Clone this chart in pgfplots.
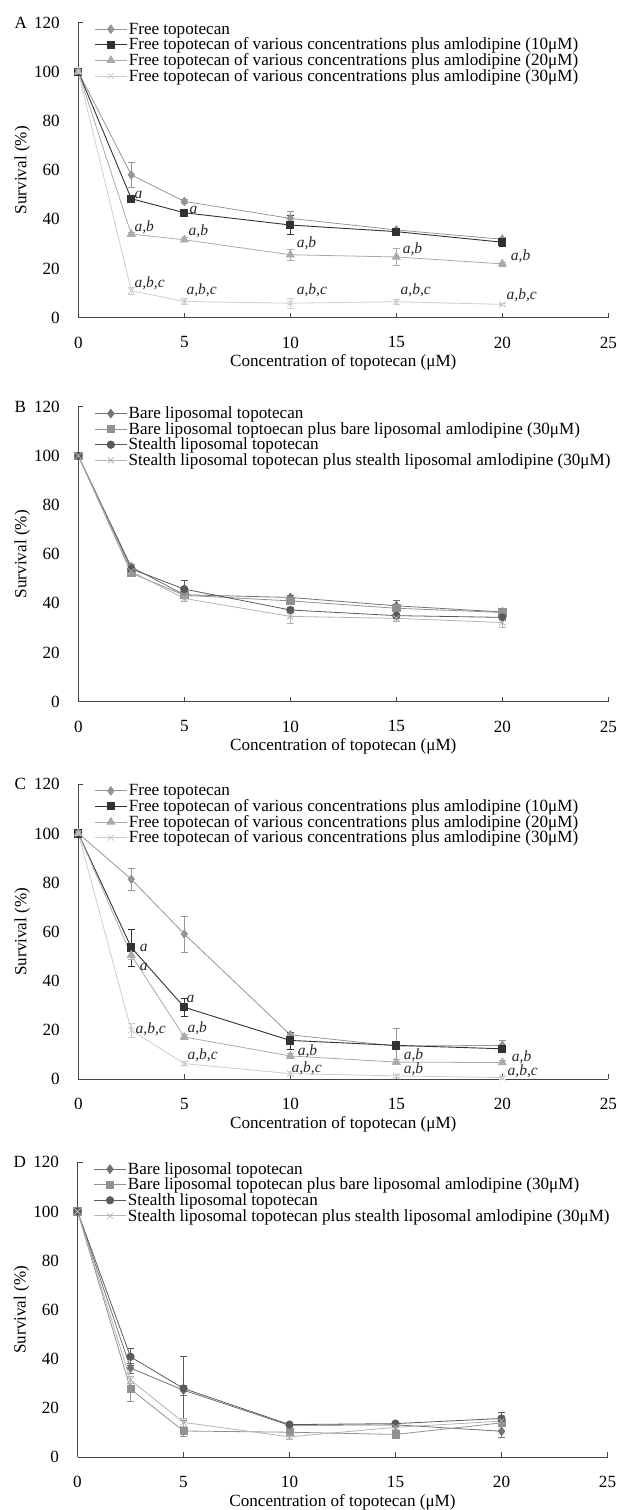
\documentclass[border=0pt]{standalone}
\usepackage{fontspec}
\setmainfont{Liberation Serif}
\usepackage{pgfplots}
\pgfplotsset{compat=1.18}
\definecolor{axc}{RGB}{70,70,70}
\definecolor{freeC}{RGB}{150,150,150}
\definecolor{amAC}{RGB}{50,50,50}
\definecolor{amBC}{RGB}{170,170,170}
\definecolor{amCC}{RGB}{205,205,205}
\definecolor{bareC}{RGB}{115,115,115}
\definecolor{bareAmC}{RGB}{145,145,145}
\definecolor{stC}{RGB}{90,90,90}
\definecolor{stAmC}{RGB}{180,180,180}
\newcommand{\pfont}{\fontsize{17.1bp}{18.5bp}\selectfont}
\tikzset{ann/.style={font=\fontsize{15.5bp}{17bp}\selectfont\itshape, text=black!85, inner sep=1bp}}
\pgfplotsset{
  panel/.style={
    scale only axis, width=530bp, height=295bp,
    anchor=south west,
    xmin=0, xmax=25, ymin=0, ymax=120,
    axis lines=left,
    axis line style={-, draw=axc, line width=0.9bp},
    xtick={0,5,...,25}, ytick={0,20,...,120},
    tick align=inside, major tick length=5bp,
    xtick style={draw=axc, line width=0.8bp},
    ytick style={draw=none},
    font=\pfont,
    /pgf/number format/assume math mode=true,
    xticklabel style={yshift=-15.5bp},
    yticklabel style={xshift=-15bp},
    xlabel={Concentration of topotecan (μM)},
    ylabel={Survival (\%)},
    xlabel style={at={(axis description cs:0.5,0)}, anchor=center, yshift=-45bp},
    ylabel style={at={(axis description cs:-0.1057,0.5)}, anchor=center},
    clip=false,
    legend cell align=left,
    legend style={at={(axis description cs:0.03,1.005)}, anchor=north west,
      draw=none, fill=none, row sep=-0.8bp, inner sep=0bp,
      nodes={inner sep=1.5bp},
      font=\pfont},
    legend image code/.code={\draw[mark repeat=2,mark phase=2,#1] plot coordinates {(0bp,0bp) (16bp,0bp) (32bp,0bp)};},
    error bars/y dir=both, error bars/y explicit,
    error bars/error bar style={line width=0.6bp},
    error bars/error mark options={rotate=90, mark size=3.3bp, line width=0.6bp},
  },
  sFree/.style={color=freeC, line width=0.8bp, mark=diamond*, mark size=4.3bp, mark options={solid}},
  sA/.style={color=amAC, line width=0.9bp, mark=square*, mark size=3.6bp},
  sB/.style={color=amBC, line width=0.8bp, mark=triangle*, mark size=4.5bp},
  sC/.style={color=amCC, line width=0.8bp, mark=x, mark size=4.2bp, mark options={line width=0.8bp}},
  sBare/.style={color=bareC, line width=0.8bp, mark=diamond*, mark size=4.3bp},
  sBareAm/.style={color=bareAmC, line width=0.8bp, mark=square*, mark size=3.6bp},
  sSt/.style={color=stC, line width=0.8bp, mark=*, mark size=3.7bp},
  sStAm/.style={color=stAmC, line width=0.8bp, mark=x, mark size=4.2bp, mark options={line width=0.8bp}},
}
\begin{document}
\begin{tikzpicture}
\useasboundingbox (0bp,0bp) rectangle (618bp,1510bp);
% ---------------- Panel A ----------------
\begin{axis}[panel, at={(78.3bp,1192.3bp)}]
\addplot[sFree] table[row sep=\\, x=x, y=y, y error=e]{
x y e\\ 0 100 0\\ 2.5 58.1 5.2\\ 5 47.3 0.8\\ 10 40.4 2.7\\ 15 35.7 0.8\\ 20 31.9 0.8\\};
\addlegendentry{Free topotecan}
\addplot[sA] table[row sep=\\, x=x, y=y, y error=e]{
x y e\\ 0 100 0\\ 2.5 48.4 1.0\\ 5 42.7 1.5\\ 10 37.7 3.8\\ 15 35.0 1.2\\ 20 30.7 1.5\\};
\addlegendentry{Free topotecan of various concentrations plus amlodipine (10μM)}
\addplot[sB] table[row sep=\\, x=x, y=y, y error=e]{
x y e\\ 0 100 0\\ 2.5 34.0 0.8\\ 5 31.7 0.8\\ 10 25.6 2.2\\ 15 24.7 3.5\\ 20 21.9 0.8\\};
\addlegendentry{Free topotecan of various concentrations plus amlodipine (20μM)}
\addplot[sC] table[row sep=\\, x=x, y=y, y error=e]{
x y e\\ 0 100 0\\ 2.5 11.0 1.5\\ 5 6.6 1.3\\ 10 5.9 2.1\\ 15 6.5 1.0\\ 20 5.4 0.5\\};
\addlegendentry{Free topotecan of various concentrations plus amlodipine (30μM)}
\node[ann, anchor=south west] at (axis cs:2.6,47.8) {a};
\node[ann, anchor=west] at (axis cs:5.2,43.8) {a};
\node[ann, anchor=south west] at (axis cs:2.6,33.8) {a,b};
\node[ann, anchor=south west] at (axis cs:5.15,31.8) {a,b};
\node[ann, anchor=south west] at (axis cs:10.25,27) {a,b};
\node[ann, anchor=south west] at (axis cs:15.25,24.8) {a,b};
\node[ann, anchor=south west] at (axis cs:20.35,22) {a,b};
\node[ann, anchor=south west] at (axis cs:2.6,11) {a,b,c};
\node[ann, anchor=south west] at (axis cs:5.05,8) {a,b,c};
\node[ann, anchor=south west] at (axis cs:10.25,8) {a,b,c};
\node[ann, anchor=south west] at (axis cs:15.15,8) {a,b,c};
\node[ann, anchor=south west] at (axis cs:20.15,6) {a,b,c};
\node[anchor=west, font=\pfont] at (axis description cs:-0.127,1.0) {A};
\draw[axc, line width=0.8bp] (axis cs:0,120) -- ++(5bp,0bp);
\end{axis}
% ---------------- Panel B ----------------
\begin{axis}[panel, at={(78.3bp,808.3bp)}]
\addplot[sBare] table[row sep=\\, x=x, y=y, y error=e]{
x y e\\ 0 100 0\\ 2.5 54.8 1.0\\ 5 43.5 1.0\\ 10 42.4 1.0\\ 15 39.0 2.2\\ 20 36.5 1.0\\};
\addlegendentry{Bare liposomal topotecan}
\addplot[sBareAm] table[row sep=\\, x=x, y=y, y error=e]{
x y e\\ 0 100 0\\ 2.5 52.3 1.0\\ 5 43.3 1.0\\ 10 41.0 1.0\\ 15 38.0 1.0\\ 20 36.3 1.0\\};
\addlegendentry{Bare liposomal toptoecan plus bare liposomal amlodipine (30μM)}
\addplot[sSt] table[row sep=\\, x=x, y=y, y error=e]{
x y e\\ 0 100 0\\ 2.5 54.0 1.0\\ 5 45.8 3.6\\ 10 37.3 1.0\\ 15 35.0 1.0\\ 20 34.3 1.0\\};
\addlegendentry{Stealth liposomal topotecan}
\addplot[sStAm] table[row sep=\\, x=x, y=y, y error=e]{
x y e\\ 0 100 0\\ 2.5 53.0 1.0\\ 5 42.0 1.0\\ 10 34.7 3.0\\ 15 33.9 1.0\\ 20 32.2 2.0\\};
\addlegendentry{Stealth liposomal topotecan plus stealth liposomal amlodipine (30μM)}
\node[anchor=west, font=\pfont] at (axis description cs:-0.127,1.0) {B};
\draw[axc, line width=0.8bp] (axis cs:0,120) -- ++(5bp,0bp);
\end{axis}
% ---------------- Panel C ----------------
\begin{axis}[panel, at={(78.3bp,430.7bp)}]
\addplot[sFree] table[row sep=\\, x=x, y=y, y error=e]{
x y e\\ 0 100 0\\ 2.5 81.4 4.4\\ 5 59.1 7.4\\ 10 18.1 1.0\\ 15 13.5 7.3\\ 20 13.8 2.0\\};
\addlegendentry{Free topotecan}
\addplot[sA] table[row sep=\\, x=x, y=y, y error=e]{
x y e\\ 0 100 0\\ 2.5 53.6 7.6\\ 5 29.3 3.5\\ 10 15.8 3.5\\ 15 13.8 1.0\\ 20 12.4 1.3\\};
\addlegendentry{Free topotecan of various concentrations plus amlodipine (10μM)}
\addplot[sB] table[row sep=\\, x=x, y=y, y error=e]{
x y e\\ 0 100 0\\ 2.5 50.5 1.5\\ 5 17.2 1.0\\ 10 9.5 1.0\\ 15 7.0 1.0\\ 20 6.8 0.8\\};
\addlegendentry{Free topotecan of various concentrations plus amlodipine (20μM)}
\addplot[sC] table[row sep=\\, x=x, y=y, y error=e]{
x y e\\ 0 100 0\\ 2.5 19.9 2.8\\ 5 6.4 0.8\\ 10 2.3 0.8\\ 15 1.4 0.5\\ 20 0.7 0.5\\};
\addlegendentry{Free topotecan of various concentrations plus amlodipine (30μM)}
\node[ann, anchor=west] at (axis cs:2.85,53.4) {a};
\node[ann, anchor=west] at (axis cs:2.85,45.8) {a};
\node[ann, anchor=south west] at (axis cs:5.05,30.5) {a};
\node[ann, anchor=south west] at (axis cs:5.1,17.5) {a,b};
\node[ann, anchor=west] at (axis cs:2.65,20.5) {a,b,c};
\node[ann, anchor=south west] at (axis cs:5.1,6.5) {a,b,c};
\node[ann, anchor=west] at (axis cs:10.3,11.2) {a,b};
\node[ann, anchor=west] at (axis cs:10.0,4.4) {a,b,c};
\node[ann, anchor=west] at (axis cs:15.3,9.8) {a,b};
\node[ann, anchor=west] at (axis cs:15.3,4.0) {a,b};
\node[ann, anchor=west] at (axis cs:20.4,9.0) {a,b};
\node[ann, anchor=west] at (axis cs:20.2,3.3) {a,b,c};
\node[anchor=west, font=\pfont] at (axis description cs:-0.127,1.0) {C};
\draw[axc, line width=0.8bp] (axis cs:0,120) -- ++(5bp,0bp);
\end{axis}
% ---------------- Panel D ----------------
\begin{axis}[panel, at={(77.5bp,52.7bp)}]
\addplot[sBare] table[row sep=\\, x=x, y=y, y error=e]{
x y e\\ 0 100 0\\ 2.5 36.3 2.0\\ 5 27.3 2.0\\ 10 13.0 0.5\\ 15 13.2 0.5\\ 20 10.6 2.6\\};
\addlegendentry{Bare liposomal topotecan}
\addplot[sBareAm] table[row sep=\\, x=x, y=y, y error=e]{
x y e\\ 0 100 0\\ 2.5 27.8 5.0\\ 5 10.7 2.0\\ 10 10.2 1.0\\ 15 9.3 1.0\\ 20 14.0 1.0\\};
\addlegendentry{Bare liposomal topotecan plus bare liposomal amlodipine (30μM)}
\addplot[sSt] table[row sep=\\, x=x, y=y, y error=e]{
x y e\\ 0 100 0\\ 2.5 40.9 3.4\\ 5 28.0 13.0\\ 10 13.3 0.5\\ 15 13.7 0.5\\ 20 15.8 2.5\\};
\addlegendentry{Stealth liposomal topotecan}
\addplot[sStAm] table[row sep=\\, x=x, y=y, y error=e]{
x y e\\ 0 100 0\\ 2.5 31.4 1.5\\ 5 14.2 1.5\\ 10 8.3 1.0\\ 15 12.2 1.0\\ 20 14.7 1.0\\};
\addlegendentry{Stealth liposomal topotecan plus stealth liposomal amlodipine (30μM)}
\node[anchor=west, font=\pfont] at (axis description cs:-0.127,1.0) {D};
\draw[axc, line width=0.8bp] (axis cs:0,120) -- ++(5bp,0bp);
\end{axis}
\end{tikzpicture}
\end{document}
